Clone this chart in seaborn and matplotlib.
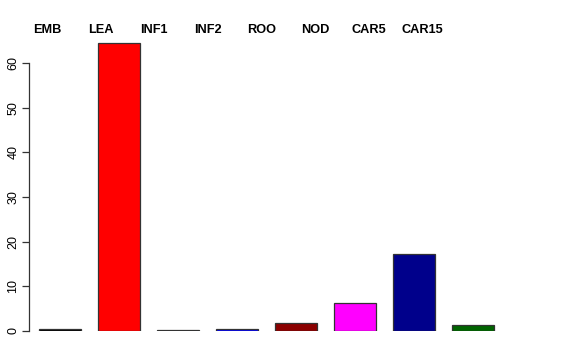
import matplotlib
matplotlib.use("Agg")
import matplotlib.pyplot as plt
import seaborn as sns
import pandas as pd

categories = ["EMB", "LEA", "INF1", "INF2", "ROO", "NOD", "CAR5", "CAR15"]
values = [0.5, 64.5, 0.15, 0.45, 1.9, 6.2, 17.2, 1.3]
colors = ["#000000", "#FF0000", "#3A6B35", "#0000FF", "#8B0000", "#FF00FF", "#00008B", "#006400"]
yticks = [0, 10, 20, 30, 40, 50, 60]

sns.set_style("white")
plt.rcParams["font.family"] = ["Liberation Sans", "DejaVu Sans"]
plt.rcParams["text.color"] = "black"
plt.rcParams["ytick.color"] = "black"

W, H = 576, 360
fig = plt.figure(figsize=(W / 100, H / 100), dpi=100)
left, right = 29, 560
bottom_px, top_px = 331, 331 - 67 * 268 / 60
ax = fig.add_axes([left / W, 1 - bottom_px / H, (right - left) / W, (bottom_px - top_px) / H])

df = pd.DataFrame({"cat": categories, "val": values})
sns.barplot(data=df, x="cat", y="val", hue="cat", palette=colors, legend=False,
            width=42 / 59, edgecolor="#333333", linewidth=0.9, saturation=1, ax=ax)

ax.set_xlim(-0.517, 8.483)
ax.set_ylim(0, 67)
ax.set_xlabel("")
ax.set_ylabel("")
ax.set_xticks([])
for s in ["top", "right", "bottom"]:
    ax.spines[s].set_visible(False)
ax.spines["left"].set_bounds(0, 60)
ax.spines["left"].set_color("#333333")
ax.spines["left"].set_linewidth(0.9)
ax.set_yticks(yticks)
ax.set_yticklabels([str(t) for t in yticks], rotation=90, va="center", fontsize=9, color="black")
ax.tick_params(axis="y", direction="out", length=5, width=0.9, color="#333333", left=True, pad=2)

for i, c in enumerate(categories):
    xpx = 47 + 53.6 * i
    fig.text(xpx / W, 1 - 30 / H, c, ha="center", va="center", fontsize=9.2,
             fontweight="bold", color="black")

fig.savefig("out.png", dpi=100)
